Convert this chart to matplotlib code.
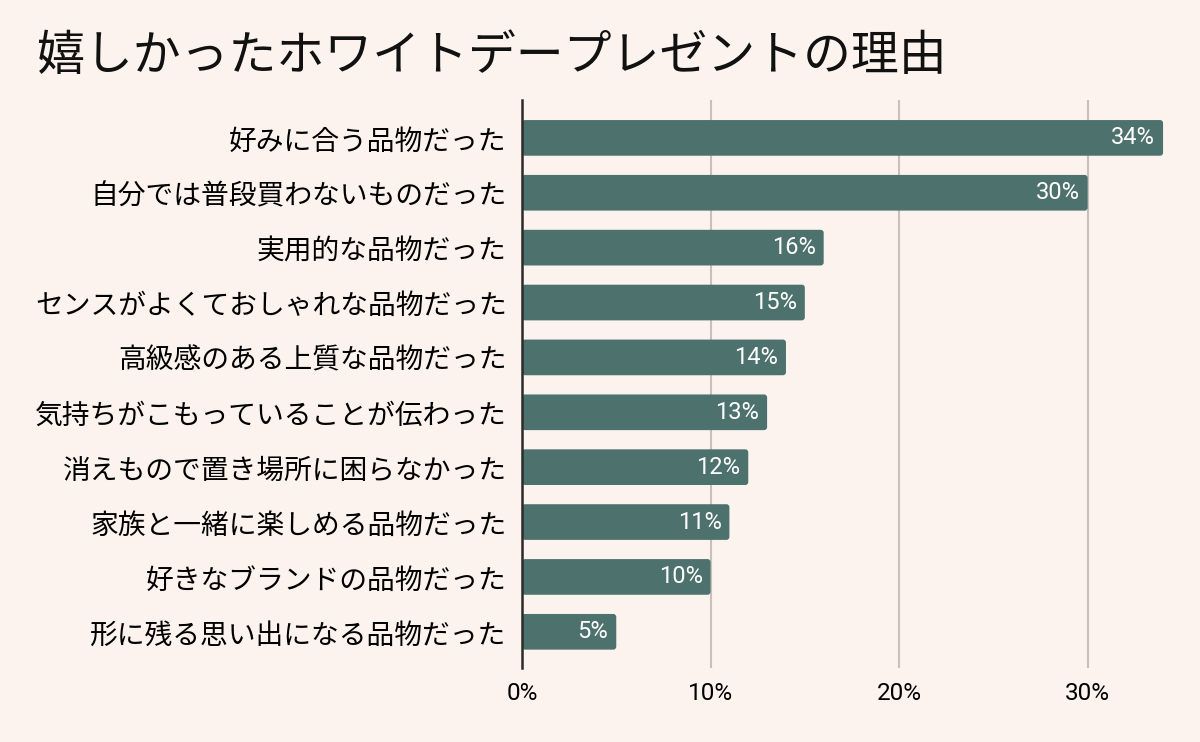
import matplotlib
matplotlib.use('Agg')
import matplotlib.pyplot as plt
import matplotlib.ticker as mtick
from matplotlib.patches import FancyBboxPatch

plt.rcParams['font.family'] = ['Noto Sans CJK JP', 'DejaVu Sans']

# Data
reasons = [
    '好みに合う品物だった',
    '自分では普段買わないものだった',
    '実用的な品物だった',
    'センスがよくておしゃれな品物だった',
    '高級感のある上質な品物だった',
    '気持ちがこもっていることが伝わった',
    '消えもので置き場所に困らなかった',
    '家族と一緒に楽しめる品物だった',
    '好きなブランドの品物だった',
    '形に残る思い出になる品物だった',
]
shares = [34, 30, 16, 15, 14, 13, 12, 11, 10, 5]
xticks = [0, 10, 20, 30]

bg = '#FCF3EE'
bar_color = '#4D716D'
grid_color = '#C9C0BB'

dpi = 100
fig = plt.figure(figsize=(1200 / dpi, 742 / dpi), dpi=dpi, facecolor=bg)
ax = fig.add_axes([0.435, 0.0997, 0.535, 0.7655], facecolor=bg)

y_pos = list(range(len(reasons)))
bars = ax.barh(y_pos, shares, height=0.65, color=bar_color, zorder=3)

# Swap plain bars for ones with slightly rounded corners
for b in bars:
    b.set_visible(False)
    ax.add_patch(FancyBboxPatch(
        (b.get_x(), b.get_y()), b.get_width(), b.get_height(),
        boxstyle='round,pad=0,rounding_size=0.16', mutation_aspect=0.34,
        facecolor=bar_color, edgecolor='none', zorder=3))

# Value labels inside the bar ends
for y, v in zip(y_pos, shares):
    ax.text(v - 0.42, y, f'{v}%', color='white', ha='right', va='center',
            fontsize=17, family=['Roboto', 'DejaVu Sans'], zorder=4)

ax.set_xlim(0, 34.05)
ax.set_ylim(9.66, -0.69)
ax.set_yticks(y_pos)
ax.set_yticklabels(reasons, fontsize=20)
ax.set_xticks(xticks)
ax.xaxis.set_major_formatter(mtick.FuncFormatter(lambda v, p: f'{v:.0f}%'))
for lbl in ax.get_xticklabels():
    lbl.set_family(['Roboto', 'DejaVu Sans'])
    lbl.set_fontsize(17.5)

ax.tick_params(axis='y', length=0, pad=11)
ax.tick_params(axis='x', length=0, pad=10)
ax.grid(axis='x', color=grid_color, linewidth=1.5, zorder=0)
for s in ['top', 'right', 'bottom']:
    ax.spines[s].set_visible(False)
ax.spines['left'].set_color('#2B2B2B')
ax.spines['left'].set_linewidth(1.8)
ax.spines['left'].set_zorder(5)

fig.text(0.031, 0.924, '嬉しかったホワイトデープレゼントの理由', fontsize=34.5,
         ha='left', va='center', color='#111111')

fig.savefig('out.png', dpi=dpi, facecolor=bg)
